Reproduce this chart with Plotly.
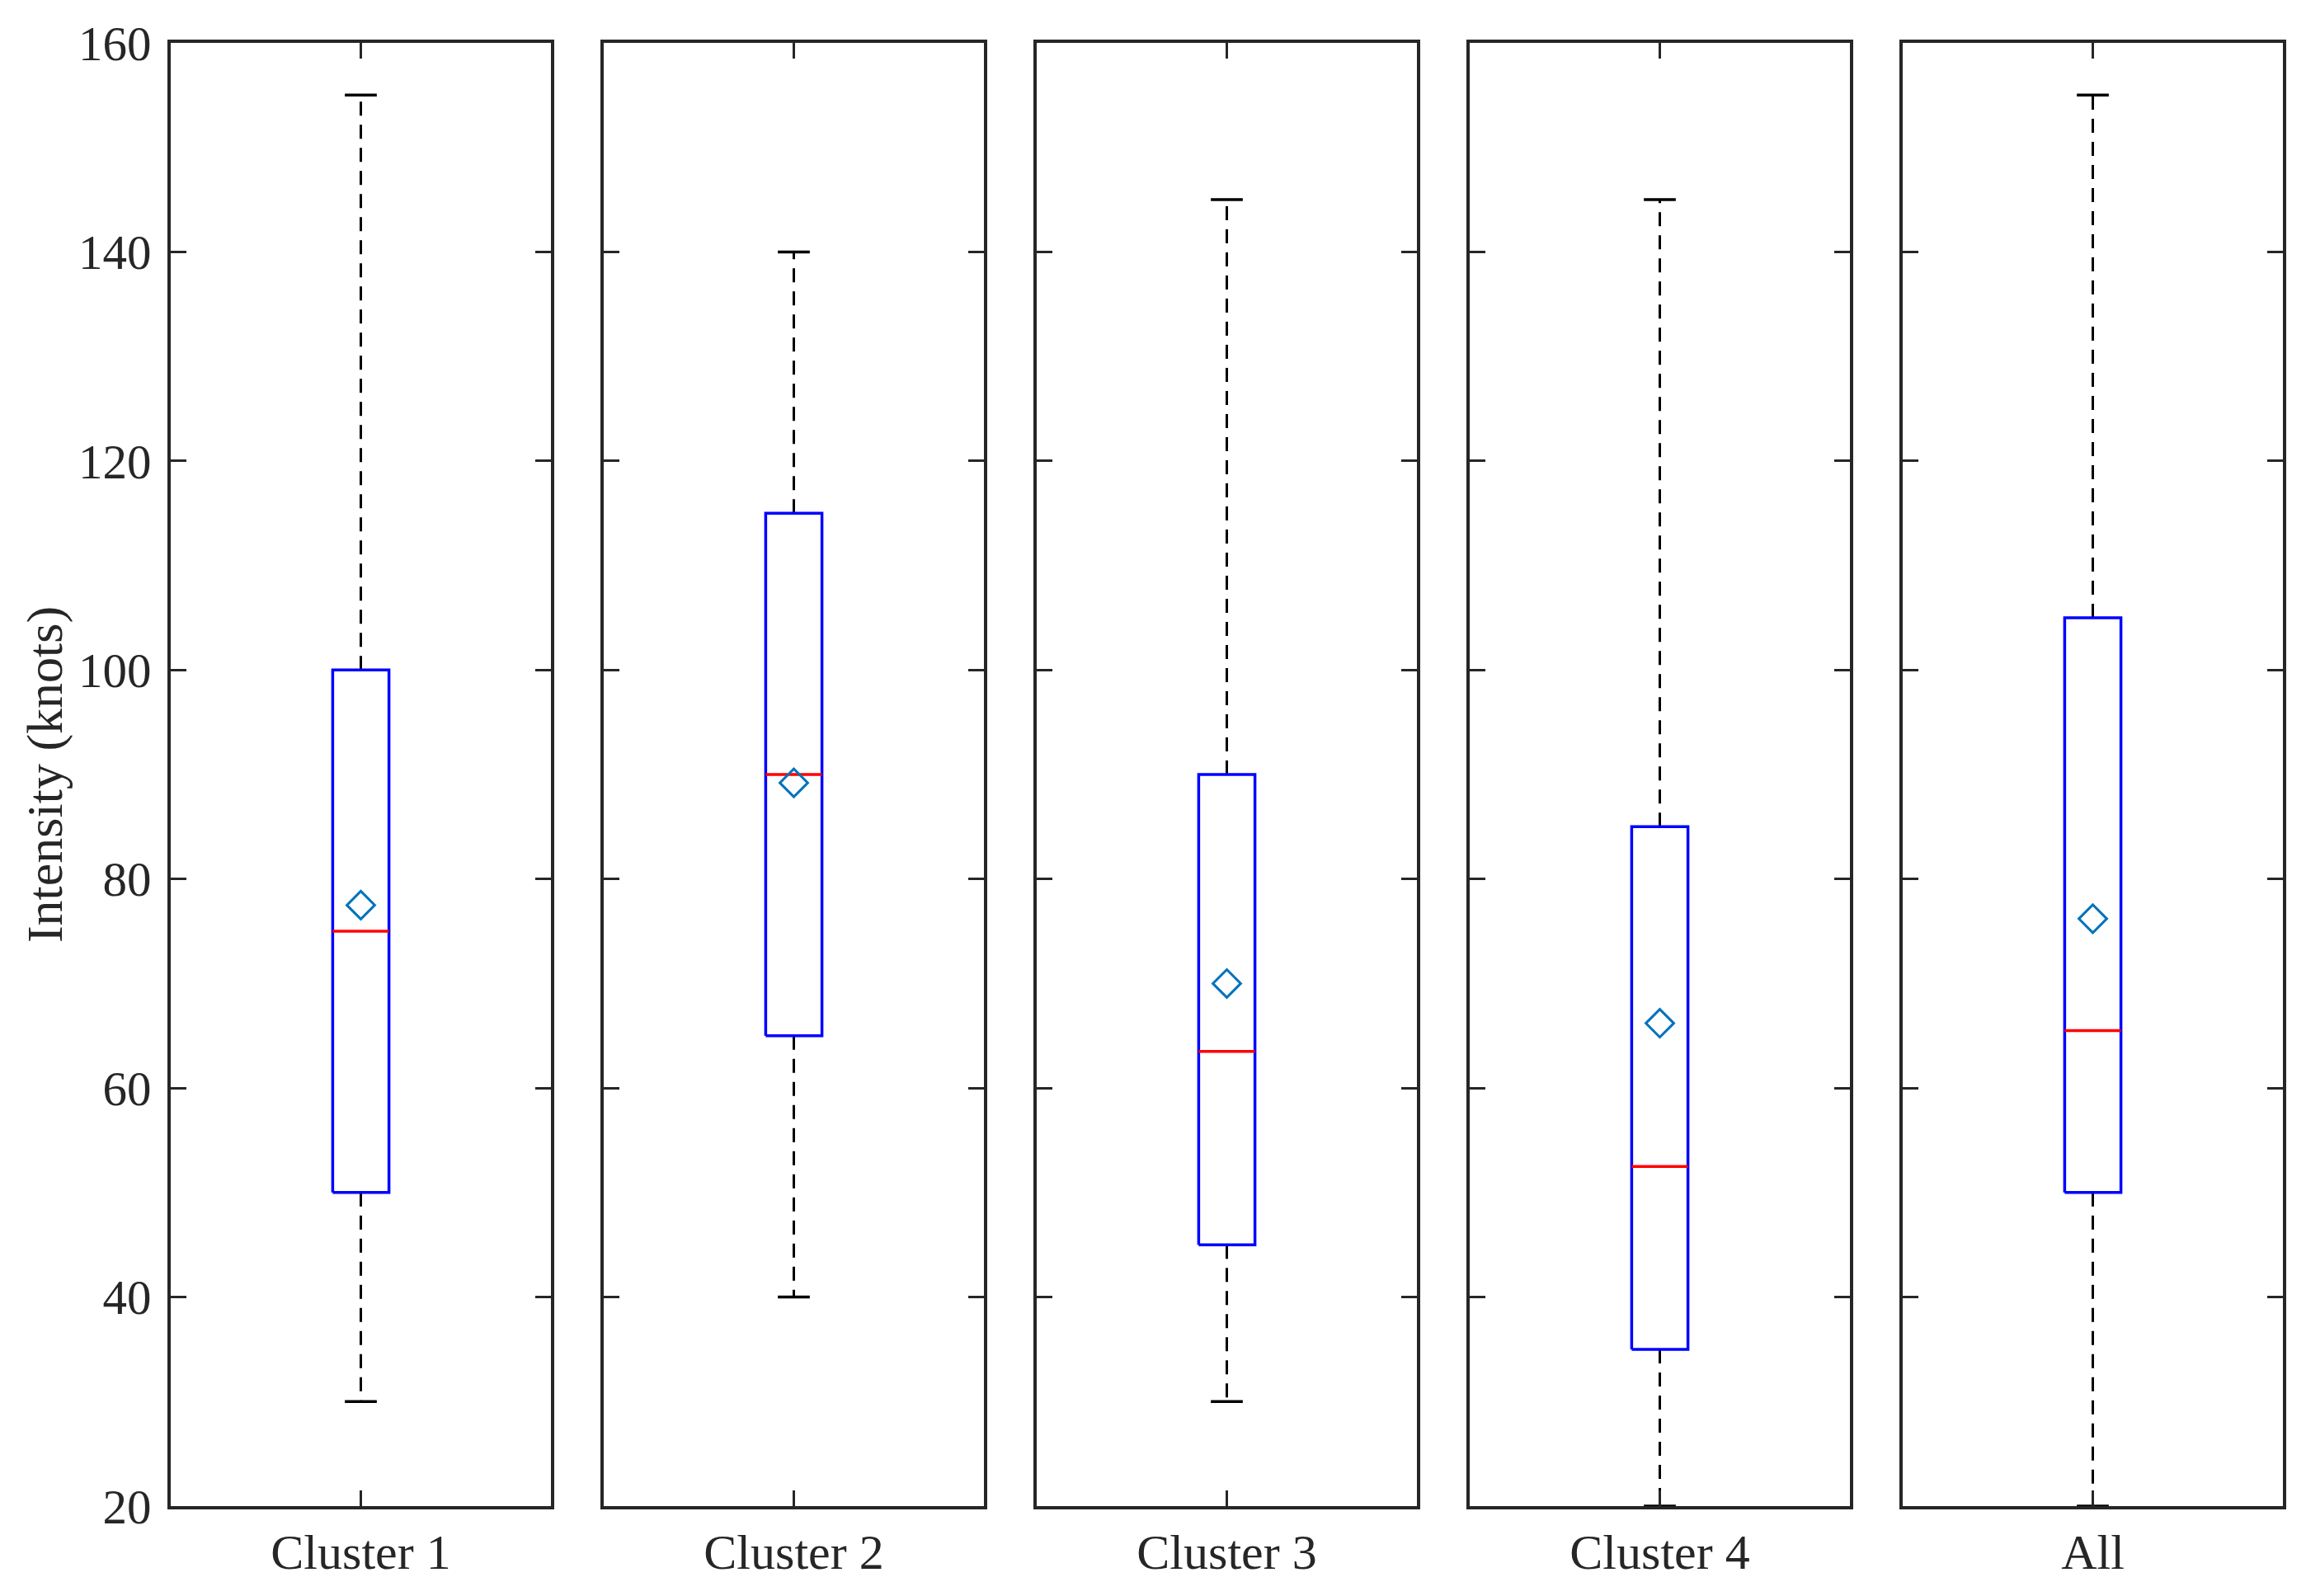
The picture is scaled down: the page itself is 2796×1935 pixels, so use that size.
# ----------------------------------------------------------------------------------------------------------------------
#  IMPORT
# ----------------------------------------------------------------------------------------------------------------------
import plotly.graph_objects as go
from plotly.subplots import make_subplots

# ----------------------------------------------------------------------------------------------------------------------
#  DATA  (knots)
# ----------------------------------------------------------------------------------------------------------------------
groups      = ['Cluster 1', 'Cluster 2', 'Cluster 3', 'Cluster 4', 'All']
upper_whisk = [155, 140, 145, 145, 155]
q3          = [100, 115, 90, 85, 105]
medians     = [75, 90, 63.5, 52.5, 65.5]
means       = [77.5, 89.2, 70.0, 66.2, 76.2]
q1          = [50, 65, 45, 35, 50]
lower_whisk = [30, 40, 30, 20, 20]

y_ticks = [20, 40, 60, 80, 100, 120, 140, 160]

# ----------------------------------------------------------------------------------------------------------------------
#  STYLE
# ----------------------------------------------------------------------------------------------------------------------
box_half = 0.074   # half box width, x data units (panel range is -0.5..0.5)
cap_half = 0.042   # half whisker cap width
axis_col = '#262626'
font_fam = 'Liberation Serif'

# ----------------------------------------------------------------------------------------------------------------------
#  PLOT
# ----------------------------------------------------------------------------------------------------------------------
n   = len(groups)
fig = make_subplots(rows=1, cols=n, shared_yaxes=True, horizontal_spacing=64 / 2561)

for i in range(n):
    col = i + 1
    # whiskers (dashed)
    for y0, y1 in [(q3[i], upper_whisk[i]), (q1[i], lower_whisk[i])]:
        fig.add_trace(go.Scatter(x=[0, 0], y=[y0, y1], mode='lines',
                                 line=dict(color='black', width=3, dash='17px,11px'),
                                 hoverinfo='skip'), row=1, col=col)
    # caps
    for yc in [upper_whisk[i], lower_whisk[i]]:
        fig.add_trace(go.Scatter(x=[-cap_half, cap_half], y=[yc, yc], mode='lines',
                                 line=dict(color='black', width=3.5),
                                 hoverinfo='skip'), row=1, col=col)
    # box
    fig.add_trace(go.Scatter(x=[-box_half, box_half, box_half, -box_half, -box_half],
                             y=[q1[i], q1[i], q3[i], q3[i], q1[i]], mode='lines',
                             line=dict(color='#0000FF', width=3.5),
                             name=groups[i]), row=1, col=col)
    # median
    fig.add_trace(go.Scatter(x=[-box_half, box_half], y=[medians[i], medians[i]], mode='lines',
                             line=dict(color='#FF0000', width=3.5),
                             name='median'), row=1, col=col)
    # mean
    fig.add_trace(go.Scatter(x=[0], y=[means[i]], mode='markers',
                             marker=dict(symbol='diamond-open', size=26, color='#0072BD',
                                         line=dict(color='#0072BD', width=3)),
                             name='mean'), row=1, col=col)

    fig.update_xaxes(range=[-0.5, 0.5], tickvals=[0], ticktext=[groups[i]],
                     ticks='inside', ticklen=19, tickwidth=3, tickcolor=axis_col,
                     showline=True, linecolor=axis_col, linewidth=3.5, mirror='ticks',
                     showgrid=False, zeroline=False, ticklabelstandoff=0,
                     tickfont=dict(family=font_fam, size=60, color='#262626'),
                     row=1, col=col)
    fig.update_yaxes(range=[20, 160], tickvals=y_ticks,
                     ticks='inside', ticklen=19, tickwidth=3, tickcolor=axis_col,
                     showline=True, linecolor=axis_col, linewidth=3.5, mirror='ticks',
                     showgrid=False, zeroline=False, ticklabelstandoff=8,
                     tickfont=dict(family=font_fam, size=59, color='#262626'),
                     row=1, col=col)

fig.update_yaxes(title_text='Intensity (knots)', title_standoff=0,
                 title_font=dict(family=font_fam, size=62, color='#262626'), row=1, col=1)

# page body adds an 8 px offset, so the figure is kept inside the window
fig.update_layout(width=2780, height=1919, showlegend=False,
                  plot_bgcolor='white', paper_bgcolor='white',
                  margin=dict(l=199, r=20, t=34, b=101))

fig.write_html('out.html')
